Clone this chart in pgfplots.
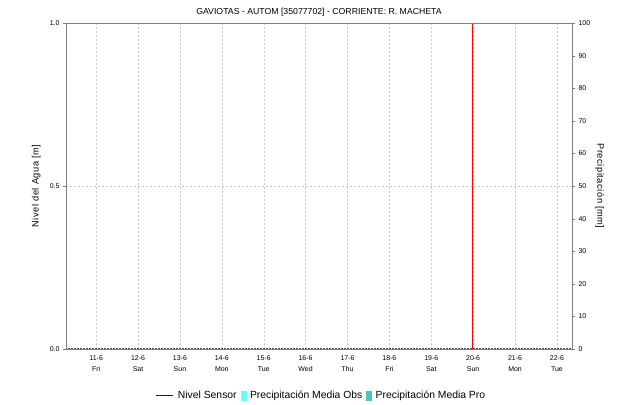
\documentclass[border=0pt]{standalone}
\usepackage{pgfplots}
\pgfplotsset{compat=1.18}
\usepackage{fontspec}
\setmainfont{Liberation Sans}
\definecolor{axgray}{HTML}{808080}
\definecolor{gridgray}{HTML}{C8C8C8}
\definecolor{obs}{HTML}{66FFFF}
\definecolor{pro}{HTML}{4CC4C4}
\definecolor{sensor}{HTML}{0000FF}
\begin{document}
\begin{tikzpicture}
\pgfplotsset{
  every axis/.append style={
    scale only axis, width=506bp, height=326bp,
    at={(66bp,53bp)}, anchor=south west,
    xmin=-0.72, xmax=11.36,
    axis line style={axgray},
    tick style={axgray, major tick length=3bp},
    tick label style={font=\fontsize{7}{8}\selectfont, text=black},
    /pgf/number format/assume math mode=true,
  }
}
\begin{axis}[
  ymin=0, ymax=1,
  ytick={0,0.5,1},
  yticklabel style={/pgf/number format/.cd, fixed, fixed zerofill, precision=1},
  xtick={0,...,11},
  xticklabels={11-6\\Fri,12-6\\Sat,13-6\\Sun,14-6\\Mon,15-6\\Tue,16-6\\Wed,17-6\\Thu,18-6\\Fri,19-6\\Sat,20-6\\Sun,21-6\\Mon,22-6\\Tue},
  xticklabel style={align=center, font=\fontsize{7}{11}\selectfont},
  xtick style={draw=none},
  axis y line*=left,
  axis x line*=bottom,
  ytick pos=left,
  tick align=outside,
  grid=major,
  major grid style={gridgray, dashed, dash pattern=on 2bp off 2bp},
  ylabel={Nivel del Agua [m]},
  ylabel style={font=\fontsize{9.3}{9}\selectfont\addfontfeatures{LetterSpace=6}, at={(axis description cs:-0.059,0.5)}, anchor=center},
  title={GAVIOTAS - AUTOM [35077702] - CORRIENTE: R. MACHETA},
  title style={font=\fontsize{8.75}{9}\selectfont, yshift=-3bp},
  legend style={at={(0.505,-0.117)}, anchor=north, legend columns=3, draw=none, fill=none,
    font=\fontsize{10.4}{11}\selectfont, column sep=2bp,
    /tikz/every even column/.append style={column sep=2bp}},
  legend cell align=left,
]
\addplot[draw=sensor, color=sensor, line width=1pt, no marks] coordinates {(-0.72,-1) (11.36,-1)};
\addlegendentry{Nivel Sensor}
\addplot[black!70, line width=0.8pt, dash pattern=on 0.6bp off 0.9bp, forget plot] coordinates {(-0.72,0.002) (11.36,0.002)};
\addplot[red, line width=0.8pt, forget plot] coordinates {(8.98,0) (8.98,1)};
\addlegendimage{legend image code/.code={\fill[obs] (0bp,-4.7bp) rectangle (5bp,4.7bp);}}
\addlegendentry{Precipitación Media Obs}
\addlegendimage{legend image code/.code={\fill[pro] (0bp,-4.7bp) rectangle (5bp,4.7bp);}}
\addlegendentry{Precipitación Media Pro}
\end{axis}
\begin{axis}[
  ymin=0, ymax=100,
  ytick={0,10,...,100},
  axis y line*=right,
  axis x line=none,
  tick align=outside,
  ylabel={Precipitación [mm]},
  ylabel style={font=\fontsize{9.3}{9}\selectfont\addfontfeatures{LetterSpace=6}, rotate=180, at={(axis description cs:1.055,0.5)}, anchor=center},
]
\addplot[draw=none] coordinates {(0,0)};
\end{axis}
\draw[axgray] (66bp,379bp) -- (572bp,379bp);
\path[use as bounding box] (0,0) rectangle (628bp,402bp);
\end{tikzpicture}
\end{document}
